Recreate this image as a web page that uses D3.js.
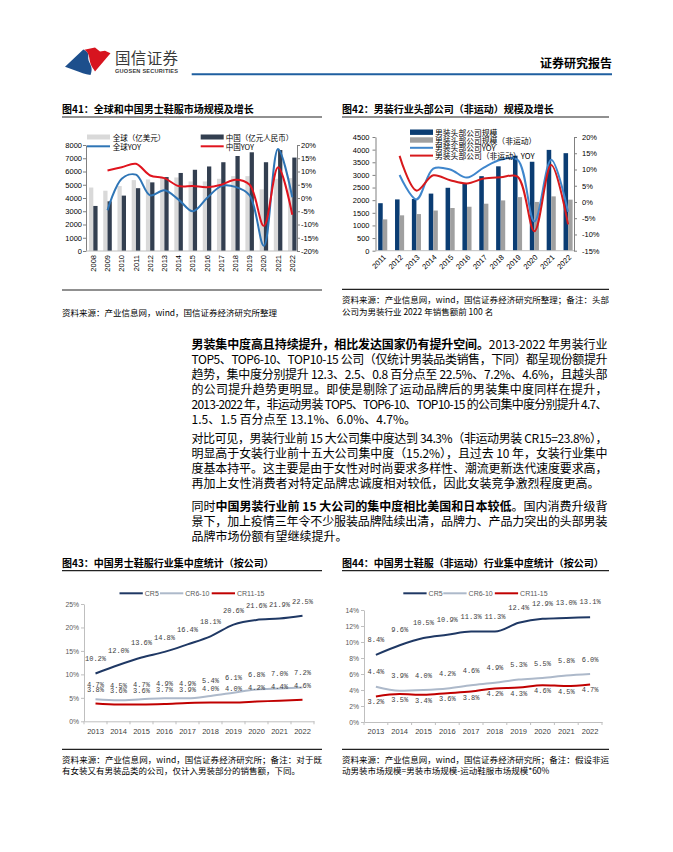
<!DOCTYPE html>
<html><head><meta charset="utf-8">
<script src="https://cdn.jsdelivr.net/npm/d3@7"></script>
<style>
body{margin:0;background:#fff;}
svg{display:block;font-family:"Noto Sans CJK SC","Noto Sans",sans-serif;}
</style></head><body>
<svg id="page" width="673" height="852"></svg>
<script>
// ---------- DATA ----------
const years41 = ["2008","2009","2010","2011","2012","2013","2014","2015","2016","2017","2018","2019","2020","2021","2022"];
const global41 = [4790,4550,4900,5350,5400,5550,5550,5250,5250,5450,5650,5650,4650,5450,5500];
const china41 = [3400,3750,4180,4740,5180,5580,5890,6130,6380,6700,7170,7450,6700,7620,7050];
const globalYoy41 = [null,-4.6,7.3,8.8,1.0,2.9,-0.6,-5.0,0.0,4.5,4.2,1.0,-18.0,18.5,0.3];
const chinaYoy41 = [null,10.4,11.6,12.9,8.5,7.5,4.5,4.5,4.1,5.0,6.9,5.0,-10.5,11.6,-6.3];
const leftTicks41 = [0,1000,2000,3000,4000,5000,6000,7000,8000];
const rightTicks41 = [-20,-15,-10,-5,0,5,10,15,20];

const years42 = ["2011","2012","2013","2014","2015","2016","2017","2018","2019","2020","2021","2022"];
const top42 = [1880,2030,2050,2260,2490,2680,2950,3340,3760,3520,3990,3860];
const topNs42 = [1240,1400,1450,1590,1690,1740,1860,1990,2120,1930,2150,2020];
const topYoy42 = [null,8.3,0.8,10.3,10.0,7.5,10.6,13.0,13.0,-6.0,13.0,-3.0];
const topNsYoy42 = [null,14.2,3.5,8.2,6.7,5.7,7.2,7.6,7.8,-9.0,11.4,-6.9];
const leftTicks42 = [0,500,1000,1500,2000,2500,3000,3500,4000,4500];
const rightTicks42 = [-15,-10,-5,0,5,10,15,20];

const years43 = ["2013","2014","2015","2016","2017","2018","2019","2020","2021","2022"];
const cr5_43 = [10.2,12.0,13.6,14.8,16.4,18.1,20.6,21.6,21.9,22.5];
const cr610_43 = [4.7,4.5,4.7,4.9,4.9,5.4,6.1,6.8,7.0,7.2];
const cr1115_43 = [3.8,3.6,3.6,3.7,3.9,4.0,4.0,4.2,4.4,4.6];
const ticks43 = [0,5,10,15,20,25];

const years44 = years43;
const cr5_44 = [8.4,9.6,10.5,10.9,11.3,11.3,12.4,12.9,13.0,13.1];
const cr610_44 = [4.4,3.9,4.0,4.2,4.6,4.9,5.3,5.5,5.8,6.0];
const cr1115_44 = [3.2,3.5,3.4,3.6,3.8,4.2,4.3,4.6,4.5,4.7];
const ticks44 = [0,2,4,6,8,10,12,14];

const seriesNames = ["CR5","CR6-10","CR11-15"];

// ---------- HELPERS ----------
const svg = d3.select("#page");
const SANS = "'Liberation Sans',Arial,sans-serif";
const MONO = "'Liberation Mono',monospace";
const CJK = "'Noto Sans CJK SC',sans-serif";

function styleAxis(sel, color, fs, ff, tc){
  sel.selectAll("path.domain").attr("stroke", color);
  sel.selectAll(".tick line").attr("stroke", color);
  sel.selectAll(".tick text").attr("font-size", fs).attr("font-family", ff).attr("fill", tc);
}
function addText(x, y, s, o={}){
  const t = svg.append("text").attr("x", x).attr("y", y).text(s)
    .attr("font-size", o.fs || 10).attr("font-family", o.ff || CJK)
    .attr("fill", o.fill || "#000").attr("dominant-baseline","central");
  if (o.fw) t.attr("font-weight", o.fw);
  if (o.anchor) t.attr("text-anchor", o.anchor);
  if (o.len) t.attr("textLength", o.len).attr("lengthAdjust","spacing");
  return t;
}
function hline(x1,x2,y,color,w){
  svg.append("line").attr("x1",x1).attr("x2",x2).attr("y1",y).attr("y2",y).attr("stroke",color).attr("stroke-width",w);
}

// ---------- HEADER ----------
svg.append("path").attr("d","M65,66.7 L83.3,49.5 C87,51 88.8,53 88.3,56 C87.8,59.5 89,61.5 90.2,64 C91.6,67 92.5,70 90.5,75 C85,74 80,72.5 76.7,71 Z").attr("fill","#1d4f8c");
svg.append("path").attr("d","M84.3,49.8 L95,47.5 L100,51.5 L105,50.8 L110.5,53.3 L95,71.5 C93.5,69 91.5,66.5 90.5,63.5 C89.5,60.5 89.5,58 88.8,55.5 C88,53 86.5,51 84.3,49.8 Z").attr("fill","#d7141f");
addText(115, 57.2, "国信证券", {fs:15.5, fill:"#3a3a3a", len:63});
addText(115, 71, "GUOSEN SECURITIES", {fs:5.6, ff:SANS, fw:"bold", fill:"#3a3a3a", len:63});
addText(612, 62.3, "证券研究报告", {fs:12, fw:"bold", anchor:"end"});
hline(191.7, 612, 74.3, "#1f5fa0", 2);

// ---------- TITLES / FOOTERS ----------
addText(62, 108.5, "图41：全球和中国男士鞋服市场规模及增长", {fs:10, fw:"bold"});
hline(62, 322, 117, "#222", 1.2);
addText(342, 108.5, "图42：男装行业头部公司（非运动）规模及增长", {fs:10, fw:"bold"});
hline(342, 609, 117, "#222", 1.2);
hline(62, 322, 290, "#222", 1.2);
addText(62, 311.7, "资料来源：产业信息网，wind，国信证券经济研究所整理", {fs:8.5});
hline(342, 609, 289.3, "#222", 1.2);
addText(342, 299.3, "资料来源：产业信息网，wind，国信证券经济研究所整理；备注：头部", {fs:8.5, len:267});
addText(342, 310.7, "公司为男装行业 2022 年销售额前 100 名", {fs:8.5});

addText(62, 562.7, "图43：中国男士鞋服行业集中度统计（按公司）", {fs:10, fw:"bold"});
hline(62, 322, 570.7, "#222", 1.2);
addText(342, 562.7, "图44：中国男士鞋服（非运动）行业集中度统计（按公司）", {fs:10, fw:"bold"});
hline(342, 609, 570.7, "#222", 1.2);
hline(62, 322, 749.3, "#222", 1.2);
addText(62, 759.3, "资料来源：产业信息网，wind，国信证券经济研究所；备注：对于既", {fs:8.5, len:260});
addText(62, 769.5, "有女装又有男装品类的公司，仅计入男装部分的销售额，下同。", {fs:8.5});
hline(342, 609, 749.3, "#222", 1.2);
addText(342, 759.3, "资料来源：产业信息网，wind，国信证券经济研究所；备注：假设非运", {fs:8.5, len:267});
addText(342, 769.8, "动男装市场规模=男装市场规模-运动鞋服市场规模*60%", {fs:8.5});

// ---------- BODY TEXT ----------
const bodyLines = [
  {y:342.7, j:1, s:[["男装集中度高且持续提升，相比发达国家仍有提升空间。",1],["2013-2022 年男装行业",0]]},
  {y:357.7, j:1, s:[["TOP5、TOP6-10、TOP10-15 公司（仅统计男装品类销售，下同）都呈现份额提升",0]]},
  {y:372.7, j:1, s:[["趋势，集中度分别提升 12.3、2.5、0.8 百分点至 22.5%、7.2%、4.6%，且越头部",0]]},
  {y:387.7, j:1, s:[["的公司提升趋势更明显。即使是剔除了运动品牌后的男装集中度同样在提升，",0]]},
  {y:402.7, j:1, s:[["2013-2022 年，非运动男装 TOP5、TOP6-10、TOP10-15 的公司集中度分别提升 4.7、",0]]},
  {y:417.7, j:0, s:[["1.5、1.5 百分点至 13.1%、6.0%、4.7%。",0]]},
  {y:436.5, j:1, s:[["对比可见，男装行业前 15 大公司集中度达到 34.3%（非运动男装 CR15=23.8%），",0]]},
  {y:451.5, j:1, s:[["明显高于女装行业前十五大公司集中度（15.2%），且过去 10 年，女装行业集中",0]]},
  {y:466.5, j:1, s:[["度基本持平。这主要是由于女性对时尚要求多样性、潮流更新迭代速度要求高，",0]]},
  {y:481.5, j:0, s:[["再加上女性消费者对特定品牌忠诚度相对较低，因此女装竞争激烈程度更高。",0]]},
  {y:505.2, j:1, s:[["同时",0],["中国男装行业前 15 大公司的集中度相比美国和日本较低",1],["。国内消费升级背",0]]},
  {y:520.2, j:1, s:[["景下，加上疫情三年令不少服装品牌陆续出清，品牌力、产品力突出的头部男装",0]]},
  {y:535.2, j:0, s:[["品牌市场份额有望继续提升。",0]]}
];
bodyLines.forEach(L => {
  const t = svg.append("text").attr("x",191.5).attr("y",L.y).attr("dominant-baseline","central")
    .attr("font-size",12).attr("font-family",CJK).attr("fill","#000");
  L.s.forEach(seg => t.append("tspan").text(seg[0]).attr("font-weight", seg[1] ? "bold" : "normal"));
  if (L.j) t.attr("textLength",416).attr("lengthAdjust","spacing");
});

// ---------- CHART 41 ----------
(function(){
  const g = svg.append("g");
  const x = d3.scaleBand().domain(years41).range([86.2, 299.4]);
  const cx = d => x(d) + x.step()/2;
  const yL = d3.scaleLinear().domain([0,8000]).range([251,145]);
  const yR = d3.scaleLinear().domain([-20,20]).range([251,145]);
  const bw = x.step()*0.3;
  g.append("g").selectAll("rect").data(years41).join("rect")
    .attr("x", d => cx(d)-bw).attr("y", (d,i) => yL(global41[i]))
    .attr("width", bw).attr("height", (d,i) => yL(0)-yL(global41[i])).attr("fill","#d9d9d9");
  g.append("g").selectAll("rect").data(years41).join("rect")
    .attr("x", d => cx(d)).attr("y", (d,i) => yL(china41[i]))
    .attr("width", bw).attr("height", (d,i) => yL(0)-yL(china41[i])).attr("fill","#333f50");
  const aL = g.append("g").attr("transform","translate(86,0)")
    .call(d3.axisLeft(yL).tickValues(leftTicks41).tickSize(3).tickSizeOuter(0).tickPadding(1).tickFormat(d3.format("d")));
  styleAxis(aL, "#808080", 7.5, SANS, "#000");
  const aR = g.append("g").attr("transform","translate(297,0)")
    .call(d3.axisRight(yR).tickValues(rightTicks41).tickSize(3).tickSizeOuter(0).tickPadding(1).tickFormat(d => d+"%"));
  styleAxis(aR, "#808080", 7.5, SANS, "#000");
  g.append("line").attr("x1",86).attr("x2",297).attr("y1",yL(0)).attr("y2",yL(0)).attr("stroke","#bfbfbf");
  g.append("g").selectAll("text").data(years41).join("text")
    .attr("transform", d => `translate(${cx(d)},255) rotate(-90)`).attr("text-anchor","end")
    .attr("dy","0.35em").attr("font-size",7.5).attr("font-family",SANS).text(d => d);
  const line = d3.line().defined(d => d[1] != null).x(d => cx(d[0])).y(d => yR(d[1])).curve(d3.curveCatmullRom);
  g.append("path").attr("d", line(years41.map((d,i) => [d, globalYoy41[i]]))).attr("fill","none").attr("stroke","#2e75b6").attr("stroke-width",2);
  g.append("path").attr("d", line(years41.map((d,i) => [d, chinaYoy41[i]]))).attr("fill","none").attr("stroke","#e0141e").attr("stroke-width",2);
  // legend
  const lg = g.append("g").attr("font-size",7.5).attr("font-family",CJK);
  lg.append("rect").attr("x",87).attr("y",134.5).attr("width",23).attr("height",5).attr("fill","#d9d9d9");
  lg.append("text").attr("x",112.7).attr("y",137).attr("dominant-baseline","central").text("全球（亿美元）");
  lg.append("rect").attr("x",200.7).attr("y",134.5).attr("width",23).attr("height",5).attr("fill","#333f50");
  lg.append("text").attr("x",225.7).attr("y",137).attr("dominant-baseline","central").text("中国（亿元人民币）");
  lg.append("line").attr("x1",87).attr("x2",110).attr("y1",146.3).attr("y2",146.3).attr("stroke","#2e75b6").attr("stroke-width",2);
  lg.append("text").attr("x",112.7).attr("y",146.3).attr("dominant-baseline","central").text("全球YOY");
  lg.append("line").attr("x1",200.7).attr("x2",223.7).attr("y1",146.3).attr("y2",146.3).attr("stroke","#e0141e").attr("stroke-width",2);
  lg.append("text").attr("x",225.7).attr("y",146.3).attr("dominant-baseline","central").text("中国YOY");
})();

// ---------- CHART 42 ----------
(function(){
  const g = svg.append("g");
  const x = d3.scaleBand().domain(years42).range([374.3, 576.5]);
  const cx = d => x(d) + x.step()/2;
  const yL = d3.scaleLinear().domain([0,4500]).range([250.7,137]);
  const yR = d3.scaleLinear().domain([-15,20]).range([250.7,137]);
  const bw = x.step()*0.27;
  g.append("g").selectAll("rect").data(years42).join("rect")
    .attr("x", d => cx(d)-bw).attr("y", (d,i) => yL(top42[i]))
    .attr("width", bw).attr("height", (d,i) => yL(0)-yL(top42[i])).attr("fill","#0b3d73");
  g.append("g").selectAll("rect").data(years42).join("rect")
    .attr("x", d => cx(d)).attr("y", (d,i) => yL(topNs42[i]))
    .attr("width", bw).attr("height", (d,i) => yL(0)-yL(topNs42[i])).attr("fill","#a0a0a0");
  const aL = g.append("g").attr("transform","translate(375.5,0)")
    .call(d3.axisLeft(yL).tickValues(leftTicks42).tickSize(3).tickSizeOuter(0).tickPadding(3).tickFormat(d3.format("d")));
  styleAxis(aL, "#808080", 7.5, SANS, "#000");
  const aR = g.append("g").attr("transform","translate(574,0)")
    .call(d3.axisRight(yR).tickValues(rightTicks42).tickSize(3).tickSizeOuter(0).tickPadding(5).tickFormat(d => d+"%"));
  styleAxis(aR, "#808080", 7.5, SANS, "#000");
  g.append("line").attr("x1",375.5).attr("x2",574).attr("y1",yL(0)).attr("y2",yL(0)).attr("stroke","#bfbfbf");
  g.append("g").selectAll("text").data(years42).join("text")
    .attr("transform", d => `translate(${cx(d)+2},256) rotate(-45)`).attr("text-anchor","end")
    .attr("dy","0.35em").attr("font-size",7.5).attr("font-family",SANS).text(d => d);
  const line = d3.line().defined(d => d[1] != null).x(d => cx(d[0])).y(d => yR(d[1])).curve(d3.curveCatmullRom);
  g.append("path").attr("d", line(years42.map((d,i) => [d, topYoy42[i]]))).attr("fill","none").attr("stroke","#3f86cc").attr("stroke-width",2);
  g.append("path").attr("d", line(years42.map((d,i) => [d, topNsYoy42[i]]))).attr("fill","none").attr("stroke","#d7191c").attr("stroke-width",2);
  const lg = g.append("g").attr("font-size",7.8).attr("font-family",CJK);
  const items = [["男装头部公司规模","rect","#0b3d73",132.2],["男装头部公司规模（非运动）","rect","#a0a0a0",140.0],["男装头部公司YOY","line","#3f86cc",147.8],["男装头部公司（非运动）YOY","line","#d7191c",155.6]];
  items.forEach(it => {
    if (it[1] === "rect") lg.append("rect").attr("x",410).attr("y",it[3]-2.7).attr("width",23).attr("height",5.4).attr("fill",it[2]);
    else lg.append("line").attr("x1",410).attr("x2",433).attr("y1",it[3]).attr("y2",it[3]).attr("stroke",it[2]).attr("stroke-width",2);
    lg.append("text").attr("x",435).attr("y",it[3]).attr("dominant-baseline","central").text(it[0]);
  });
})();

// ---------- CHARTS 43 / 44 ----------
function lineChart(cfg){
  const g = svg.append("g");
  const x = d3.scaleBand().domain(cfg.years).range(cfg.xr);
  const cx = d => x(d) + x.step()/2;
  const y = d3.scaleLinear().domain(cfg.yd).range(cfg.yr);
  const aY = g.append("g").attr("transform",`translate(${cfg.xr[0]},0)`)
    .call(d3.axisLeft(y).tickValues(cfg.ticks).tickSize(3).tickSizeOuter(0).tickPadding(2).tickFormat(d => d+"%"));
  styleAxis(aY, "#bfbfbf", 6.8, SANS, "#595959");
  const aX = g.append("g").attr("transform",`translate(0,${y(0)})`)
    .call(d3.axisBottom(x).tickSize(0).tickSizeOuter(0).tickPadding(7));
  styleAxis(aX, "#bfbfbf", 7.5, SANS, "#404040");
  g.append("g").selectAll("line").data(cfg.years.map(d => x(d)).concat([cfg.xr[1]])).join("line")
    .attr("x1", d => d).attr("x2", d => d).attr("y1", y(0)).attr("y2", y(0)+3).attr("stroke","#bfbfbf");
  const line = d3.line().x(d => cx(d[0])).y(d => y(d[1])).curve(d3.curveMonotoneX);
  const colors = ["#1f3864","#adb9ca","#c00000"];
  [2,1,0].forEach(k => {
    g.append("path").attr("d", line(cfg.years.map((d,i) => [d, cfg.series[k][i]])))
      .attr("fill","none").attr("stroke",colors[k]).attr("stroke-width",2);
  });
  [0,1,2].forEach(k => {
    g.append("g").selectAll("text").data(cfg.years).join("text")
      .attr("x", d => cx(d)).attr("y", (d,i) => y(cfg.series[k][i]) + cfg.off[k])
      .attr("text-anchor","middle").attr("dominant-baseline","central")
      .attr("font-size",7).attr("font-family",MONO).attr("fill","#404040")
      .text((d,i) => cfg.series[k][i].toFixed(1) + "%");
  });
  // legend
  const lg = g.append("g").attr("font-size",7).attr("font-family",SANS).attr("fill","#595959");
  cfg.legX.forEach((lx,k) => {
    lg.append("line").attr("x1",lx).attr("x2",lx+23.3).attr("y1",593.3).attr("y2",593.3).attr("stroke",colors[k]).attr("stroke-width",2);
    lg.append("text").attr("x",lx+25.3).attr("y",593.3).attr("dominant-baseline","central").text(seriesNames[k]);
  });
}
lineChart({years:years43, xr:[84,314], yd:[0,25], yr:[721.3,604], ticks:ticks43,
  series:[cr5_43,cr610_43,cr1115_43], off:[-14,-14.5,-13.5], legX:[119.5,160,211.7]});
lineChart({years:years44, xr:[364,602], yd:[0,14], yr:[722,610], ticks:ticks44,
  series:[cr5_44,cr610_44,cr1115_44], off:[-15,-14.5,6], legX:[403.3,443.3,494.8]});
</script>
</body></html>
